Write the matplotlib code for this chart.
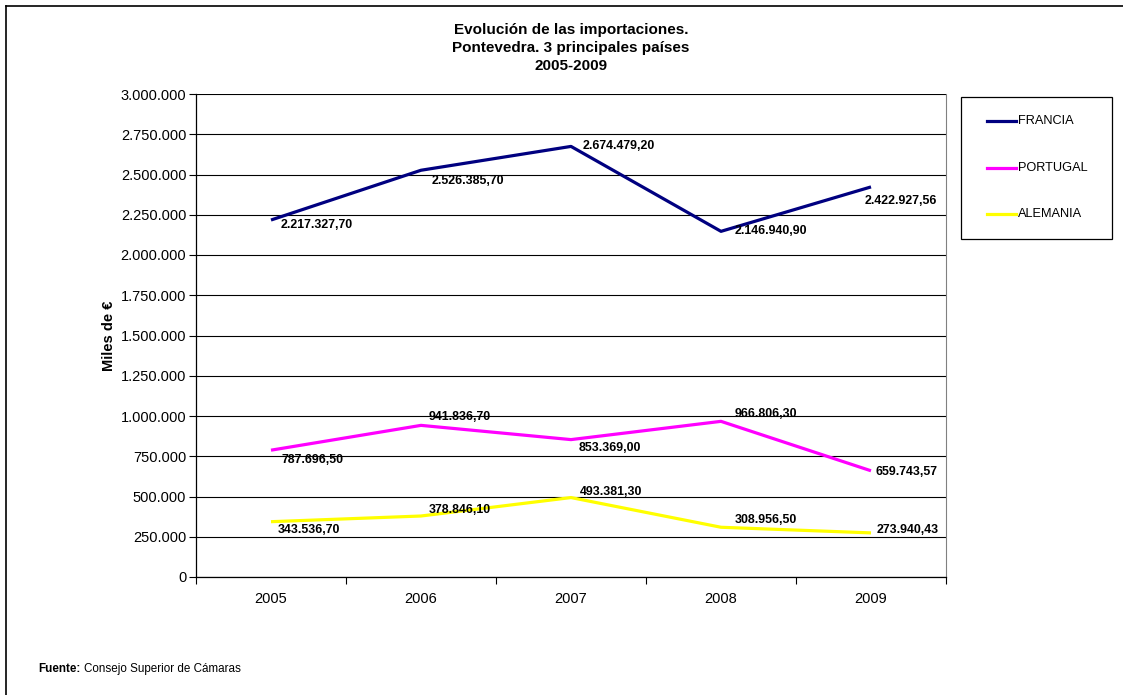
import numpy as np
import matplotlib.pyplot as plt
from matplotlib.lines import Line2D
from matplotlib.patches import Rectangle

plt.rcParams['font.family'] = ['Liberation Sans', 'DejaVu Sans']

years = ['2005', '2006', '2007', '2008', '2009']
francia = [2217327.70, 2526385.70, 2674479.20, 2146940.90, 2422927.56]
portugal = [787696.50, 941836.70, 853369.00, 966806.30, 659743.57]
alemania = [343536.70, 378846.10, 493381.30, 308956.50, 273940.43]
yticks = np.arange(0, 3000001, 250000)

# label offsets in pixels (dx, dy), dy positive = down
off_fr = [(10, 5), (11, 11), (12, 0), (14, 0), (-6, 14)]
off_pt = [(10, 10), (8, -8), (8, 8), (14, -7), (4, 1)]
off_al = [(7, 8), (8, -6), (9, -6), (14, -7), (6, -3)]


def fmt(v, dec=True):
    s = f'{v:,.2f}' if dec else f'{v:,.0f}'
    return s.replace(',', 'X').replace('.', ',').replace('X', '.')


W, H = 1123, 695
fig = plt.figure(figsize=(W/100, H/100), dpi=100)
ax = fig.add_axes([196/W, 1-577/H, 750/W, 483/H])
x = np.arange(len(years))

series = [(francia, '#000080', 'FRANCIA', off_fr),
          (portugal, '#FF00FF', 'PORTUGAL', off_pt),
          (alemania, '#FFFF00', 'ALEMANIA', off_al)]
for vals, col, name, offs in series:
    ax.plot(x, vals, color=col, lw=2.3, solid_capstyle='butt', zorder=3)
    for xi, v, (dx, dy) in zip(x, vals, offs):
        ax.annotate(fmt(v), (xi, v), xytext=(dx, -dy), textcoords='offset pixels',
                    ha='left', va='center', fontsize=8.9, fontweight='bold', zorder=4)

ax.set_xlim(-0.5, 4.5)
ax.set_ylim(0, 3000000)
ax.set_yticks(yticks)
ax.set_yticklabels([fmt(v, False) for v in yticks], fontsize=10.5)
ax.set_xticks(x)
ax.set_xticklabels(years, fontsize=10.5)
ax.set_xticks(np.arange(-0.5, 5, 1), minor=True)
ax.tick_params(axis='x', which='major', length=0, pad=10.5)
ax.tick_params(axis='x', which='minor', length=5, width=0.8, direction='out')
ax.tick_params(axis='y', length=5, width=0.8, direction='out', pad=2)
ax.grid(axis='y', color='black', lw=0.8)
ax.set_axisbelow(True)
ax.spines['top'].set_visible(False)
ax.spines['right'].set_color('#808080')
ax.spines['left'].set_linewidth(0.9)
ax.spines['bottom'].set_linewidth(0.9)
ax.set_ylabel('Miles de €', fontsize=10.5, fontweight='bold', labelpad=3)

fig.text(571/W, 1-48/H, 'Evolución de las importaciones.\nPontevedra. 3 principales países\n2005-2009',
         ha='center', va='center', fontsize=11, fontweight='bold', linespacing=1.32)

# legend box
fig.add_artist(Rectangle((961/W, 1-239/H), 151/W, 142/H, transform=fig.transFigure,
                         fill=False, edgecolor='black', lw=0.9))
for (_, col, name, _), yy in zip(series, [121, 168, 214]):
    fig.add_artist(Line2D([987/W, 1016/W], [1-yy/H, 1-yy/H], color=col, lw=2.3))
    fig.text(1018/W, 1-yy/H, name, fontsize=9.2, va='center', ha='left')

t1 = fig.text(38/W, 1-669/H, 'Fuente:', fontsize=8.4, fontweight='bold', va='center', ha='left')
ax.annotate('Consejo Superior de Cámaras', xy=(1, 0.5), xycoords=t1, xytext=(2.5, 0),
            textcoords='offset points', fontsize=8.4, va='center', ha='left',
            annotation_clip=False)

# outer border
fig.add_artist(Line2D([6/W, 6/W], [0, 1-6/H], color='black', lw=1.2))
fig.add_artist(Line2D([6/W, 1], [1-6/H, 1-6/H], color='black', lw=1.2))

fig.savefig('out.png', dpi=100)
